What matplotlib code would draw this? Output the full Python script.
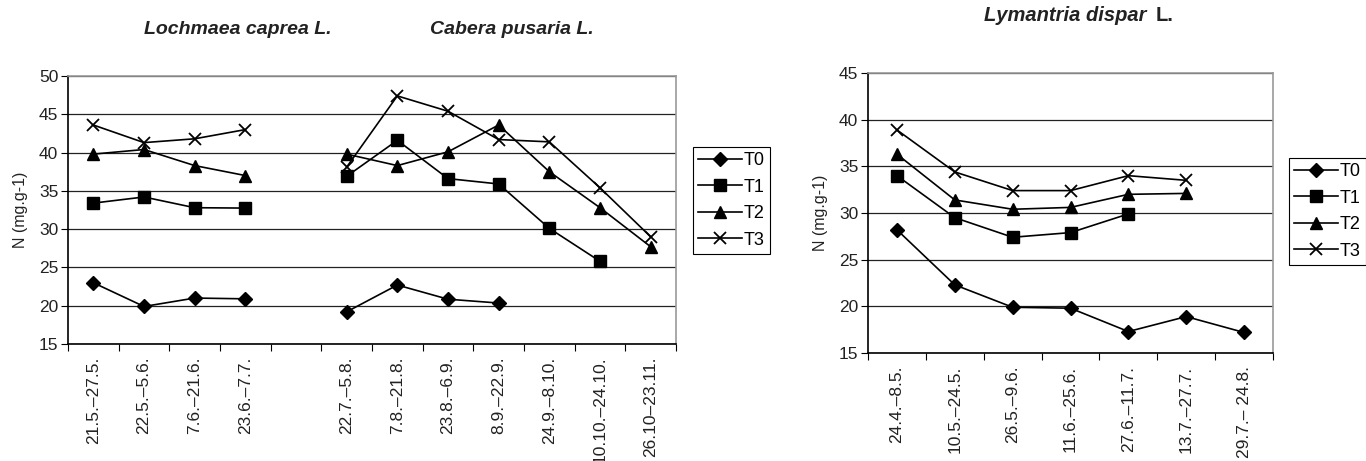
import matplotlib.pyplot as plt
import numpy as np

plt.rcParams['font.family'] = ['Liberation Sans', 'DejaVu Sans']

nan = np.nan

# chart 1: Lochmaea caprea / Cabera pusaria
periods_1 = ['21.5.\u201327.5.', '22.5.\u20135.6.', '7.6.\u201321.6.', '23.6.\u20137.7.', '',
             '22.7.\u20135.8.', '7.8.\u201321.8.', '23.8.\u20136.9.', '8.9.\u201322.9.',
             '24.9.\u20138.10.', '10.10.\u201324.10.', '26.10\u201323.11.']
t0_1 = [23.0, 19.9, 21.0, 20.9, nan, 19.2, 22.7, 20.85, 20.35, nan, nan, nan]
t1_1 = [33.4, 34.2, 32.8, 32.75, nan, 36.9, 41.6, 36.6, 35.9, 30.1, 25.8, nan]
t2_1 = [39.8, 40.4, 38.3, 37.0, nan, 39.8, 38.3, 40.1, 43.6, 37.5, 32.8, 27.7]
t3_1 = [43.6, 41.3, 41.8, 43.0, nan, 38.1, 47.4, 45.4, 41.7, 41.4, 35.4, 29.0]

# chart 2: Lymantria dispar
periods_2 = ['24.4.\u20138.5.', '10.5.\u201324.5.', '26.5.\u20139.6.', '11.6.\u201325.6.',
             '27.6.\u201311.7.', '13.7.\u201327.7.', '29.7.\u2013 24.8.']
t0_2 = [28.2, 22.3, 19.9, 19.8, 17.3, 18.9, 17.2]
t1_2 = [34.0, 29.5, 27.4, 27.9, 29.9, nan, nan]
t2_2 = [36.3, 31.4, 30.4, 30.6, 32.0, 32.1, nan]
t3_2 = [38.9, 34.4, 32.4, 32.4, 34.0, 33.5, nan]

series_names = ['T0', 'T1', 'T2', 'T3']
markers = [('D', 7), ('s', 8), ('^', 8.5), ('x', 9)]


def draw(ax, periods, data, ymin, ymax):
    x = np.arange(len(periods)) + 0.5
    for vals, name, (m, ms) in zip(data, series_names, markers):
        ax.plot(x, vals, color='black', lw=1.2, marker=m, markersize=ms,
                markeredgewidth=1.3 if m == 'x' else 1, label=name)
    ax.set_xlim(0, len(periods))
    ax.set_ylim(ymin, ymax)
    ax.set_yticks(np.arange(ymin, ymax + 1, 5))
    ax.set_xticks(np.arange(len(periods) + 1))
    ax.set_xticklabels([])
    ax.set_xticks(x, minor=True)
    ax.set_xticklabels(periods, minor=True, rotation=90, fontsize=12.5, color='#222222')
    ax.tick_params(axis='x', which='minor', length=0, pad=9)
    ax.tick_params(axis='x', which='major', length=5, direction='out', color='black')
    ax.tick_params(axis='y', length=5, labelsize=12.5, pad=2, labelcolor='#222222')
    ax.yaxis.grid(True, color='#222222', lw=0.9)
    ax.set_axisbelow(True)
    for s in ['top', 'right']:
        ax.spines[s].set_color('#999999')
        ax.spines[s].set_linewidth(1.2)
    for s in ['left', 'bottom']:
        ax.spines[s].set_color('black')
        ax.spines[s].set_linewidth(1.2)
    ax.set_ylabel('N (mg.g-1)', fontsize=11.5, labelpad=8, color='#222222')
    leg = ax.legend(loc='upper left', fontsize=13, handlelength=2.4,
                    handletextpad=0.1, borderpad=0.3, labelspacing=0.52,
                    fancybox=False, framealpha=1, edgecolor='black',
                    borderaxespad=0)
    leg.get_frame().set_linewidth(0.8)


fig = plt.figure(figsize=(13.66, 4.61), dpi=100)
ax1 = fig.add_axes([68 / 1366, 1 - 344 / 461, 608 / 1366, 268 / 461])
ax2 = fig.add_axes([868 / 1366, 1 - 353 / 461, 405 / 1366, 280 / 461])

draw(ax1, periods_1, [t0_1, t1_1, t2_1, t3_1], 15, 50)
draw(ax2, periods_2, [t0_2, t1_2, t2_2, t3_2], 15, 45)
ax1.get_legend().set_bbox_to_anchor((693 / 1366, 1 - 147 / 461), transform=fig.transFigure)
ax2.get_legend().set_bbox_to_anchor((1289 / 1366, 1 - 158 / 461), transform=fig.transFigure)

fig.text(0.174, 0.935, 'Lochmaea caprea L.', fontsize=14, fontweight='bold',
         fontstyle='italic', ha='center', va='center', color='#222222')
fig.text(0.375, 0.935, 'Cabera pusaria L.', fontsize=14, fontweight='bold',
         fontstyle='italic', ha='center', va='center', color='#222222')
fig.text(1146 / 1366, 0.967, 'Lymantria dispar', fontsize=14.5, fontweight='bold',
         fontstyle='italic', ha='right', va='center', color='#222222')
fig.text(1156 / 1366, 0.967, 'L.', fontsize=14.5, fontweight='bold',
         ha='left', va='center', color='#222222')

fig.savefig('out.png', dpi=100)
